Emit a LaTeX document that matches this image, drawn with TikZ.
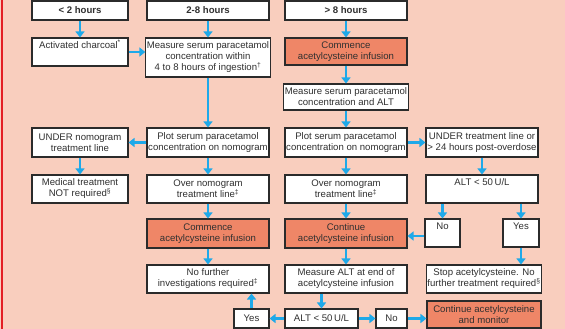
\documentclass[tikz,border=0pt]{standalone}
\usepackage{fontspec}
\setmainfont{Liberation Sans}
\usetikzlibrary{arrows.meta}
\definecolor{bgpink}{HTML}{F9CEBE}
\definecolor{boxorange}{HTML}{EF8667}
\definecolor{flowblue}{HTML}{1EA9E9}
\definecolor{edgered}{HTML}{E31E24}
\definecolor{boxline}{HTML}{2B2B2B}
\definecolor{inktext}{HTML}{303030}
\newcommand{\bx}[6]{% name, x1, x2, y1, y2, style
  \node[#6, minimum width={(#3-#2)*1pt}, minimum height={(#5-#4)*1pt}]
    (#1) at ({(#2+#3)/2},{(#4+#5)/2})}
\begin{document}
\begin{tikzpicture}[x=1pt,y=-1pt,
  every node/.style={font=\fontsize{9.6}{11}\selectfont, text=inktext},
  stepbox/.style={draw=boxline, line width=1.1pt, fill=white, align=center, inner sep=1pt},
  hotbox/.style={stepbox, fill=boxorange},
  headbox/.style={stepbox, font=\fontsize{9.6}{11}\selectfont\bfseries},
  flow/.style={draw=flowblue, line width=2.6pt, -{Triangle[width=9pt,length=6pt]}}]
\useasboundingbox (0,0) rectangle (565,329);
\fill[bgpink] (0,0) rectangle (565,329);
\fill[edgered] (0.8,0) rectangle (3.2,329);

% column headers
\bx{h1}{32}{128}{1}{20}{headbox} {< 2 hours};
\bx{h2}{147}{269}{1}{20}{headbox} {2-8 hours};
\bx{h3}{285}{407}{1}{20}{headbox} {> 8 hours};

% first actions
\bx{ac}{32}{128}{38}{66}{stepbox} {Activated charcoal\textsuperscript{*}\\[1pt] \strut};
\bx{ms}{147}{269}{38}{77}{stepbox} {Measure serum paracetamol\\concentration within\\4 to 8 hours of ingestion\textsuperscript{\dag}};
\bx{ca}{285}{407}{38}{65}{hotbox} {Commence\\acetylcysteine infusion};
\bx{ma}{285}{407}{84}{110}{stepbox} {Measure serum paracetamol\\concentration and ALT};

% nomogram row
\bx{un}{32}{128}{128}{157}{stepbox} {UNDER nomogram\\treatment line};
\bx{pa}{147}{269}{128}{157}{stepbox} {Plot serum paracetamol\\concentration on nomogram};
\bx{pb}{285}{407}{128}{157}{stepbox} {Plot serum paracetamol\\concentration on nomogram};
\bx{ut}{426}{538}{128}{157}{stepbox} {UNDER treatment line or\\> 24 hours post-overdose};

% outcome row
\bx{mt}{32}{128}{175}{203}{stepbox} {Medical treatment\\NOT required\textsuperscript{\S}};
\bx{oa}{147}{269}{175}{203}{stepbox} {Over nomogram\\treatment line\textsuperscript{\ddag}};
\bx{ob}{285}{407}{175}{203}{stepbox} {Over nomogram\\treatment line\textsuperscript{\ddag}};
\bx{al}{426}{538}{175}{203}{stepbox} {ALT < 50\,U/L\\ \strut};

% treatment row
\bx{cm}{147}{269}{219}{248}{hotbox} {Commence\\acetylcysteine infusion};
\bx{ci}{285}{407}{219}{248}{hotbox} {Continue\\acetylcysteine infusion};
\bx{na}{425}{460}{219}{247}{stepbox} {No\\ \strut};
\bx{ya}{503}{539}{219}{247}{stepbox} {Yes\\ \strut};

% follow-up row
\bx{nf}{147}{269}{265}{293}{stepbox} {No further\\investigations required\textsuperscript{\ddag}};
\bx{me}{285}{407}{265}{293}{stepbox} {Measure ALT at end of\\acetylcysteine infusion};
\bx{st}{427}{541}{265}{293}{stepbox} {Stop acetylcysteine. No\\further treatment required\textsuperscript{\S}};

% final row
\bx{yb}{234}{269}{309}{328}{stepbox} {Yes};
\bx{ab}{285}{358}{309}{328}{stepbox} {ALT < 50\,U/L};
\bx{nb}{376}{407}{309}{328}{stepbox} {No};
\bx{cb}{427}{541}{301}{328}{hotbox} {Continue acetylcysteine\\and monitor};

% connectors
\draw[flow] (h1) -- (ac);
\draw[flow] (h2) -- (ms);
\draw[flow] (h3) -- (ca);
\draw[flow] (ac.east) -- (ac.east -| ms.west);
\draw[flow] (ca) -- (ma);
\draw[flow] (ms) -- (pa);
\draw[flow] (ma) -- (pb);
\draw[flow] (pa) -- (un);
\draw[flow] (pb) -- (ut);
\draw[flow] (un) -- (mt);
\draw[flow] (pa) -- (oa);
\draw[flow] (pb) -- (ob);
\draw[flow] (ut) -- (al);
\draw[flow] (oa) -- (cm);
\draw[flow] (ob) -- (ci);
\draw[flow] (na |- al.south) -- (na);
\draw[flow] (ya |- al.south) -- (ya);
\draw[flow] ([yshift=-3pt]na.west) -- ([yshift=-3pt]na.west -| ci.east);
\draw[flow] (ya) -- (ya |- st.north);
\draw[flow] (cm) -- (nf);
\draw[flow] (ci) -- (me);
\draw[flow] (me.south -| ab) -- (ab);
\draw[flow] (ab) -- (yb);
\draw[flow] (yb.north) -- (yb.north |- nf.south);
\draw[flow] (ab) -- (nb);
\draw[flow] (nb.east) -- (nb.east -| cb.west);
\end{tikzpicture}
\end{document}
